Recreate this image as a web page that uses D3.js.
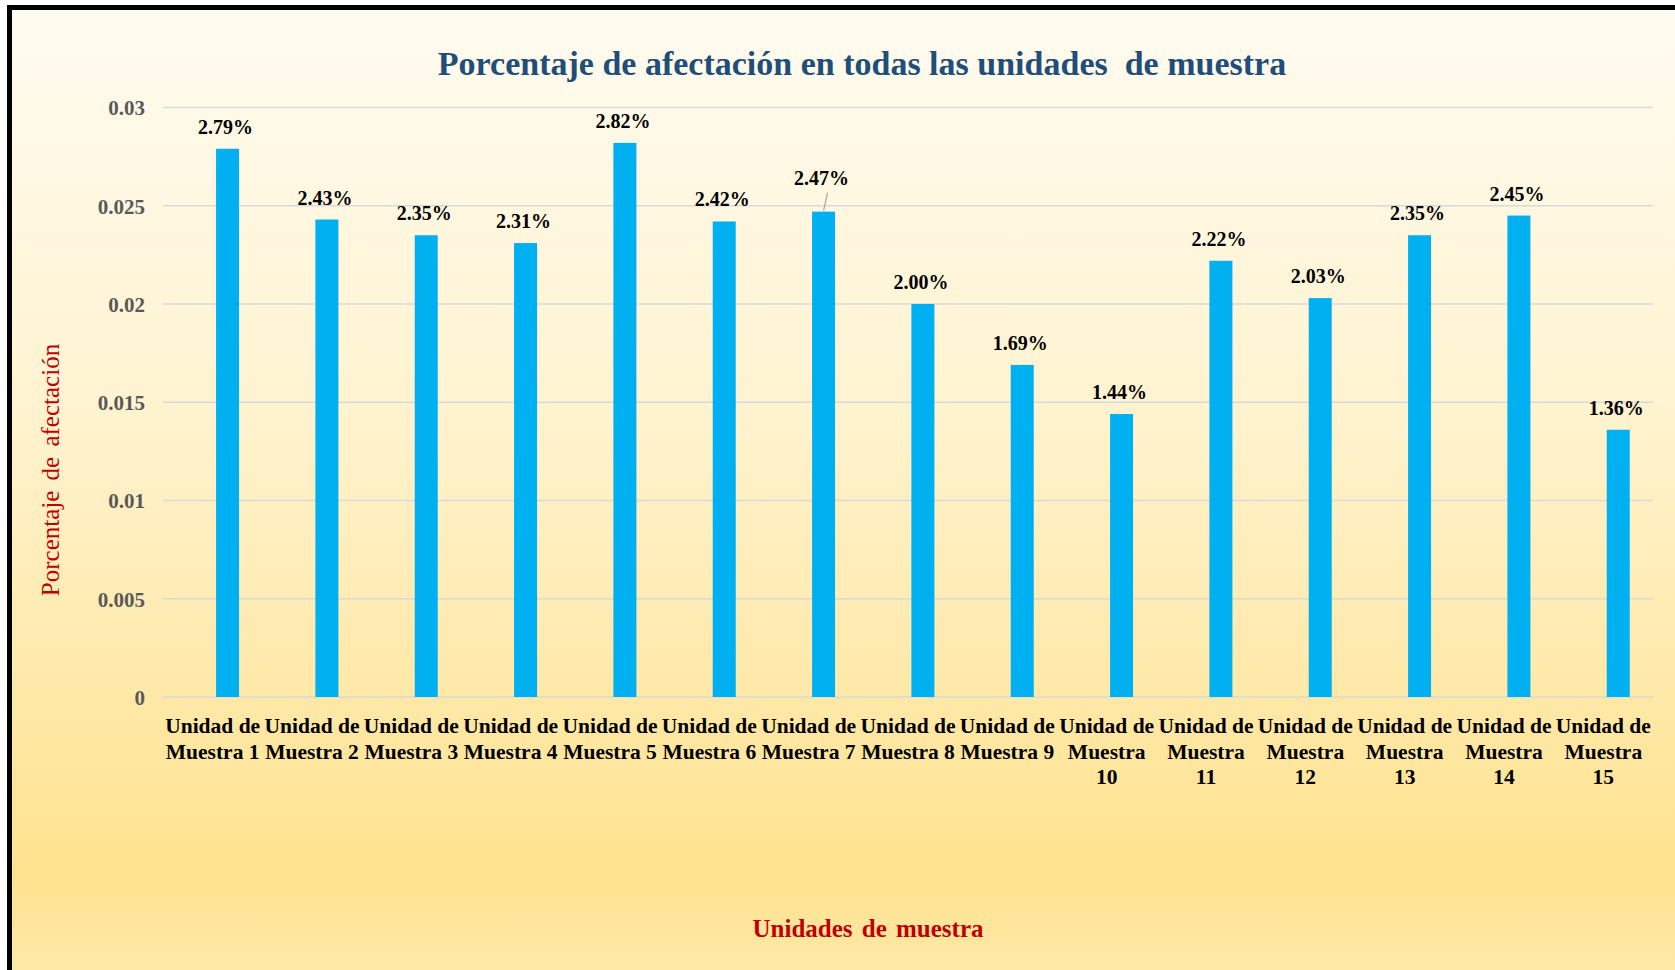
<!DOCTYPE html>
<html lang="es">
<head>
<meta charset="utf-8">
<title>Porcentaje de afectación</title>
<script src="https://cdn.jsdelivr.net/npm/d3@7/dist/d3.min.js"></script>
<style>
  html, body { margin: 0; padding: 0; background: #ffffff; }
  svg { display: block; }
  text { font-family: "Liberation Serif", "Times New Roman", serif; }
</style>
</head>
<body>
<svg id="chart" width="1675" height="970"></svg>
<script>
// Sample units and their share of affected area (fraction)
const categories = [
  "Unidad de Muestra 1", "Unidad de Muestra 2", "Unidad de Muestra 3",
  "Unidad de Muestra 4", "Unidad de Muestra 5", "Unidad de Muestra 6",
  "Unidad de Muestra 7", "Unidad de Muestra 8", "Unidad de Muestra 9",
  "Unidad de Muestra 10", "Unidad de Muestra 11", "Unidad de Muestra 12",
  "Unidad de Muestra 13", "Unidad de Muestra 14", "Unidad de Muestra 15"
];
const values = [0.0279, 0.0243, 0.0235, 0.0231, 0.0282, 0.0242, 0.0247, 0.0200,
                0.0169, 0.0144, 0.0222, 0.0203, 0.0235, 0.0245, 0.0136];
const yTicks = [0, 0.005, 0.01, 0.015, 0.02, 0.025, 0.03];
const yTickLabels = ["0", "0.005", "0.01", "0.015", "0.02", "0.025", "0.03"];

const svg = d3.select("#chart");
const W = 1675, H = 970;

// Background gradient and frame
const defs = svg.append("defs");
const grad = defs.append("linearGradient")
  .attr("id", "bg").attr("x1", 0).attr("y1", 0).attr("x2", 0).attr("y2", 1);
[["0%", "#FFFBF0"], ["40%", "#FFF3D0"], ["88%", "#FFE28E"], ["100%", "#FFEBB0"]]
  .forEach(([o, c]) => grad.append("stop").attr("offset", o).attr("stop-color", c));

svg.append("rect")
  .attr("x", 9.5).attr("y", 7.5)
  .attr("width", W + 20).attr("height", H + 20)
  .attr("fill", "url(#bg)")
  .attr("stroke", "#000").attr("stroke-width", 5);

const plot = { left: 163, right: 1653, top: 107.5, bottom: 697 };

const x = d3.scaleBand().domain(categories).range([plot.left, plot.right]);
const y = d3.scaleLinear().domain([0, 0.03]).range([plot.bottom, plot.top]);

const barW = 23;
const barShift = 0.15; // bars sit right of the category centre

// Gridlines
svg.append("g")
  .selectAll("line")
  .data(yTicks)
  .join("line")
  .attr("x1", plot.left).attr("x2", plot.right)
  .attr("y1", d => y(d)).attr("y2", d => y(d))
  .attr("stroke", "#D9D9D9").attr("stroke-width", 1.5);

// Y axis tick labels
const yAxis = d3.axisLeft(y).tickValues(yTicks)
  .tickFormat((d, i) => yTickLabels[i]).tickSize(0).tickPadding(18);
const yg = svg.append("g").attr("transform", `translate(${plot.left},0)`).call(yAxis);
yg.select(".domain").remove();
yg.selectAll("text")
  .attr("font-family", "Liberation Serif, serif")
  .attr("font-size", 21).attr("font-weight", "bold").attr("fill", "#595959")
  .attr("dy", "0.35em");

// Bars
const barX = d => x(d) + x.bandwidth() * (0.5 + barShift) - barW / 2;
svg.append("g")
  .selectAll("rect")
  .data(categories)
  .join("rect")
  .attr("x", d => barX(d))
  .attr("y", (d, i) => y(values[i]))
  .attr("width", barW)
  .attr("height", (d, i) => y(0) - y(values[i]))
  .attr("fill", "#00B0F0");

// Value labels
const labelLift = categories.map((d, i) => i === 6 ? 27 : 15);
const lbl = svg.append("g");
lbl.selectAll("text")
  .data(categories)
  .join("text")
  .attr("x", d => barX(d) + barW / 2 - 2)
  .attr("y", (d, i) => y(values[i]) - labelLift[i])
  .attr("text-anchor", "middle")
  .attr("font-size", 20).attr("font-weight", "bold").attr("fill", "#000")
  .text((d, i) => (values[i] * 100).toFixed(2) + "%");

// Leader line for the raised label
{
  const i = 6, cx = barX(categories[i]) + barW / 2;
  lbl.append("line")
    .attr("x1", cx + 4).attr("y1", y(values[i]) - labelLift[i] + 8)
    .attr("x2", cx).attr("y2", y(values[i]) - 1)
    .attr("stroke", "#A6A6A6").attr("stroke-width", 1.2);
}

// Category labels (wrapped)
const catLines = categories.map(c => {
  const n = c.replace("Unidad de Muestra ", "");
  return n.length > 1 ? ["Unidad de", "Muestra", n] : ["Unidad de", "Muestra " + n];
});
const cg = svg.append("g");
categories.forEach((c, i) => {
  const t = cg.append("text")
    .attr("x", x(c) + x.bandwidth() / 2)
    .attr("y", 733)
    .attr("text-anchor", "middle")
    .attr("font-size", 21.5).attr("font-weight", "bold").attr("fill", "#000");
  catLines[i].forEach((ln, j) => {
    t.append("tspan").attr("x", x(c) + x.bandwidth() / 2).attr("dy", j === 0 ? 0 : 25.5).text(ln);
  });
});

// Title
svg.append("text")
  .attr("x", 862).attr("y", 75)
  .attr("text-anchor", "middle")
  .attr("font-size", 34).attr("font-weight", "bold").attr("fill", "#1F4E79")
  .style("white-space", "pre")
  .text("Porcentaje de afectación en todas las unidades  de muestra");

// Axis titles
svg.append("text")
  .attr("x", 868).attr("y", 937)
  .attr("text-anchor", "middle")
  .attr("font-size", 25).attr("font-weight", "bold").attr("fill", "#C00000")
  .attr("word-spacing", 3)
  .text("Unidades de muestra");

svg.append("text")
  .attr("transform", "translate(59,470) rotate(-90)")
  .attr("text-anchor", "middle")
  .attr("font-size", 25).attr("fill", "#C00000")
  .attr("word-spacing", 4)
  .text("Porcentaje de afectación");
</script>
</body>
</html>
